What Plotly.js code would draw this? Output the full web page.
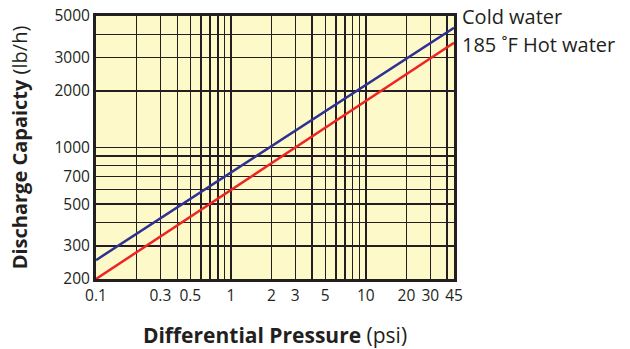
<!DOCTYPE html>
<html><head><meta charset="utf-8">
<script src="https://cdn.plot.ly/plotly-3.0.1.min.js"></script>
<style>html,body{margin:0;padding:0;background:#fff}#chart{width:630px;height:349px}</style>
</head><body><div id="chart"></div>
<script>
const pressure = [0.1, 45];
const coldWater = [252, 4325];
const hotWater = [200, 3600];
const seriesNames = ["Cold water", "185 ˚F Hot water"];
const xGrid = [0.1,0.2,0.3,0.4,0.5,0.6,0.7,0.8,0.9,1,2,3,4,5,6,7,8,9,10,20,30,40,45];
const xLabels = ["0.1","","0.3","","0.5","","","","","1","2","3","","5","","","","","10","20","30","","45"];
const yGrid = [200,300,400,500,600,700,800,900,1000,2000,3000,4000,5000];
const yLabels = ["200","300","","500","","700","","","1000","2000","3000","","5000"];

const font = "Open Sans, Noto Sans, sans-serif";
const data = [
  {x: pressure, y: coldWater, type: "scatter", mode: "lines", name: seriesNames[0],
   line: {color: "#2e3192", width: 2.5}},
  {x: pressure, y: hotWater, type: "scatter", mode: "lines", name: seriesNames[1],
   line: {color: "#ee2424", width: 2.5}}
];
const layout = {
  width: 630, height: 349,
  margin: {l: 96, r: 176, t: 16, b: 70},
  paper_bgcolor: "#ffffff", plot_bgcolor: "#fef9c8",
  showlegend: false,
  font: {family: font, color: "#231f20", size: 15},
  xaxis: {type: "log", range: [Math.log10(0.1), Math.log10(45)],
    tickmode: "array", tickvals: xGrid, ticktext: xLabels,
    showgrid: true, gridcolor: "#231f20", gridwidth: 1.4,
    showline: true, linecolor: "#231f20", linewidth: 3, mirror: true,
    ticks: "", zeroline: false, tickfont: {size: 15.5},
    title: {text: "<b>Differential Pressure</b> (psi)", font: {size: 21}, standoff: 24}},
  yaxis: {type: "log", range: [Math.log10(200), Math.log10(5000)],
    tickmode: "array", tickvals: yGrid, ticktext: yLabels,
    showgrid: true, gridcolor: "#231f20", gridwidth: 1.4,
    showline: true, linecolor: "#231f20", linewidth: 3, mirror: true,
    ticks: "", zeroline: false, tickfont: {size: 15.5},
    title: {text: "<b>Discharge Capaicty</b> (lb/h)", font: {size: 20}, standoff: 22}},
  annotations: [
    {xref: "paper", yref: "paper", x: 1, y: 1, xanchor: "left", yanchor: "middle",
     xshift: 6, text: seriesNames[0], showarrow: false, font: {size: 20}},
    {xref: "paper", yref: "paper", x: 1, y: 1, xanchor: "left", yanchor: "middle",
     xshift: 6, yshift: -28, text: seriesNames[1], showarrow: false, font: {size: 20}}
  ]
};
Plotly.newPlot("chart", data, layout, {displayModeBar: false, staticPlot: true});
</script></body></html>
